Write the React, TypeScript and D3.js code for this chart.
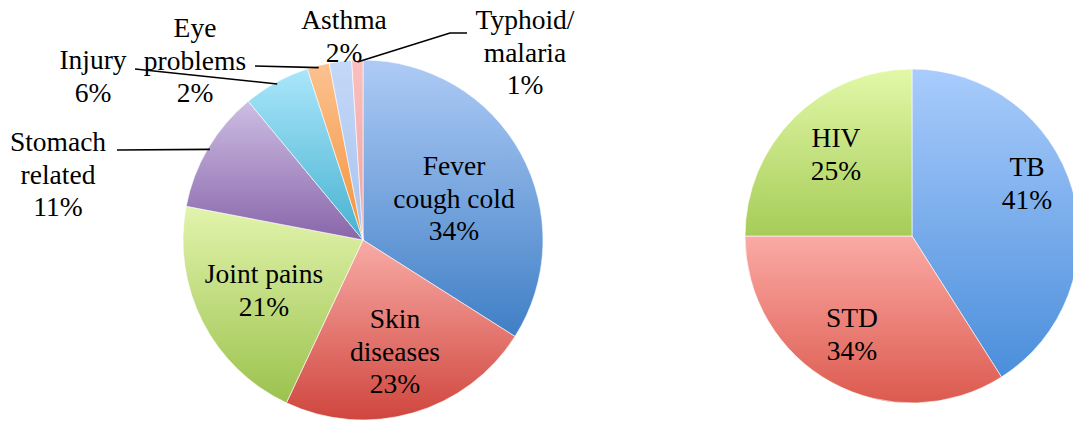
import * as d3 from 'd3';

// Left pie: common illnesses
const leftCategories = ['Fever cough cold', 'Skin diseases', 'Joint pains', 'Stomach related', 'Injury', 'Eye problems', 'Asthma', 'Typhoid/ malaria'];
const leftValues = [34, 23, 21, 11, 6, 2, 2, 1];
const leftLabelLines = [
  ['Fever', 'cough cold', '34%'],
  ['Skin', 'diseases', '23%'],
  ['Joint pains', '21%'],
  ['Stomach', 'related', '11%'],
  ['Injury', '6%'],
  ['Eye', 'problems', '2%'],
  ['Asthma', '2%'],
  ['Typhoid/', 'malaria', '1%'],
];

// Right pie: serious diseases
const rightCategories = ['TB', 'STD', 'HIV'];
const rightValues = [41, 34, 25];
const rightLabelLines = [
  ['TB', '41%'],
  ['STD', '34%'],
  ['HIV', '25%'],
];

// gradient colours, top -> bottom of each slice
const leftColors = [
  ['#aecbf5', '#3f7fc6'],
  ['#f9aba6', '#cf463e'],
  ['#e2f4ac', '#9bc24d'],
  ['#cdbde3', '#8966aa'],
  ['#aae6fa', '#47b2d1'],
  ['#fcc290', '#f3923c'],
  ['#c4d8f8', '#a8c3ee'],
  ['#f9c0bf', '#eda2a2'],
];
const rightColors = [
  ['#a9ccfc', '#4a8edb'],
  ['#fbaaa5', '#dc5a4e'],
  ['#e2f8a8', '#a6cc58'],
];

const fontSize = 27.5;
const lineGap = 32.5;

// label block centres (first line), plus leader lines for the outside ones
const leftLabelPos = [
  { x: 454, y: 166 },
  { x: 395, y: 319 },
  { x: 264, y: 274 },
  { x: 58, y: 142 },
  { x: 93, y: 60 },
  { x: 195, y: 28 },
  { x: 344, y: 20 },
  { x: 525, y: 20 },
];
const leftLeaders: ({ from: [number, number][] } | null)[] = [
  null, null, null,
  { from: [[117, 150]] },
  { from: [[135, 69]] },
  { from: [[255, 66]] },
  null,
  { from: [[467, 33], [450, 33]] },
];
const rightLabelPos = [
  { x: 1027, y: 167 },
  { x: 852, y: 318 },
  { x: 836, y: 138 },
];

function Pie({ id, values, colors, labels, labelPos, leaders, cx, cy, r }: any) {
  const pie = d3.pie<number>().sort(null).value((d) => d);
  const arcs = pie(values);
  const arc = d3.arc<d3.PieArcDatum<number>>().innerRadius(0).outerRadius(r);

  return (
    <g>
      <defs>
        {colors.map((c: string[], i: number) => (
          <linearGradient key={i} id={`${id}-g${i}`} x1="0" y1="0" x2="0" y2="1">
            <stop offset="0%" stopColor={c[0]} />
            <stop offset="100%" stopColor={c[1]} />
          </linearGradient>
        ))}
      </defs>
      <g transform={`translate(${cx},${cy})`}>
        {arcs.map((a, i) => (
          <path key={i} d={arc(a) as string} fill={`url(#${id}-g${i})`} stroke="#ffffff" strokeWidth={0.6} />
        ))}
      </g>
      {leaders &&
        leaders.map((l: any, i: number) => {
          if (!l) return null;
          const mid = (arcs[i].startAngle + arcs[i].endAngle) / 2;
          const end: [number, number] = [cx + Math.sin(mid) * (r - 2), cy - Math.cos(mid) * (r - 2)];
          const pts = [...l.from, end];
          return <path key={`l${i}`} d={d3.line()(pts) as string} fill="none" stroke="#000" strokeWidth={1.6} />;
        })}
      {labels.map((lines: string[], i: number) => (
        <text
          key={`t${i}`}
          textAnchor="middle"
          fontFamily="'Liberation Serif', 'DejaVu Serif', serif"
          fontSize={fontSize}
          fill="#000"
        >
          {lines.map((s, j) => (
            <tspan key={j} x={labelPos[i].x} y={labelPos[i].y + j * lineGap + fontSize * 0.34}>
              {s}
            </tspan>
          ))}
        </text>
      ))}
    </g>
  );
}

export default function App() {
  return (
    <svg width={1073} height={421} style={{ position: 'absolute', left: 0, top: 0, background: '#fff' }}>
      <rect width={1073} height={421} fill="#fff" />
      <Pie
        id="left"
        values={leftValues}
        colors={leftColors}
        labels={leftLabelLines}
        labelPos={leftLabelPos}
        leaders={leftLeaders}
        cx={363}
        cy={240}
        r={180}
      />
      <Pie
        id="right"
        values={rightValues}
        colors={rightColors}
        labels={rightLabelLines}
        labelPos={rightLabelPos}
        leaders={null}
        cx={912}
        cy={236}
        r={167}
      />
    </svg>
  );
}
